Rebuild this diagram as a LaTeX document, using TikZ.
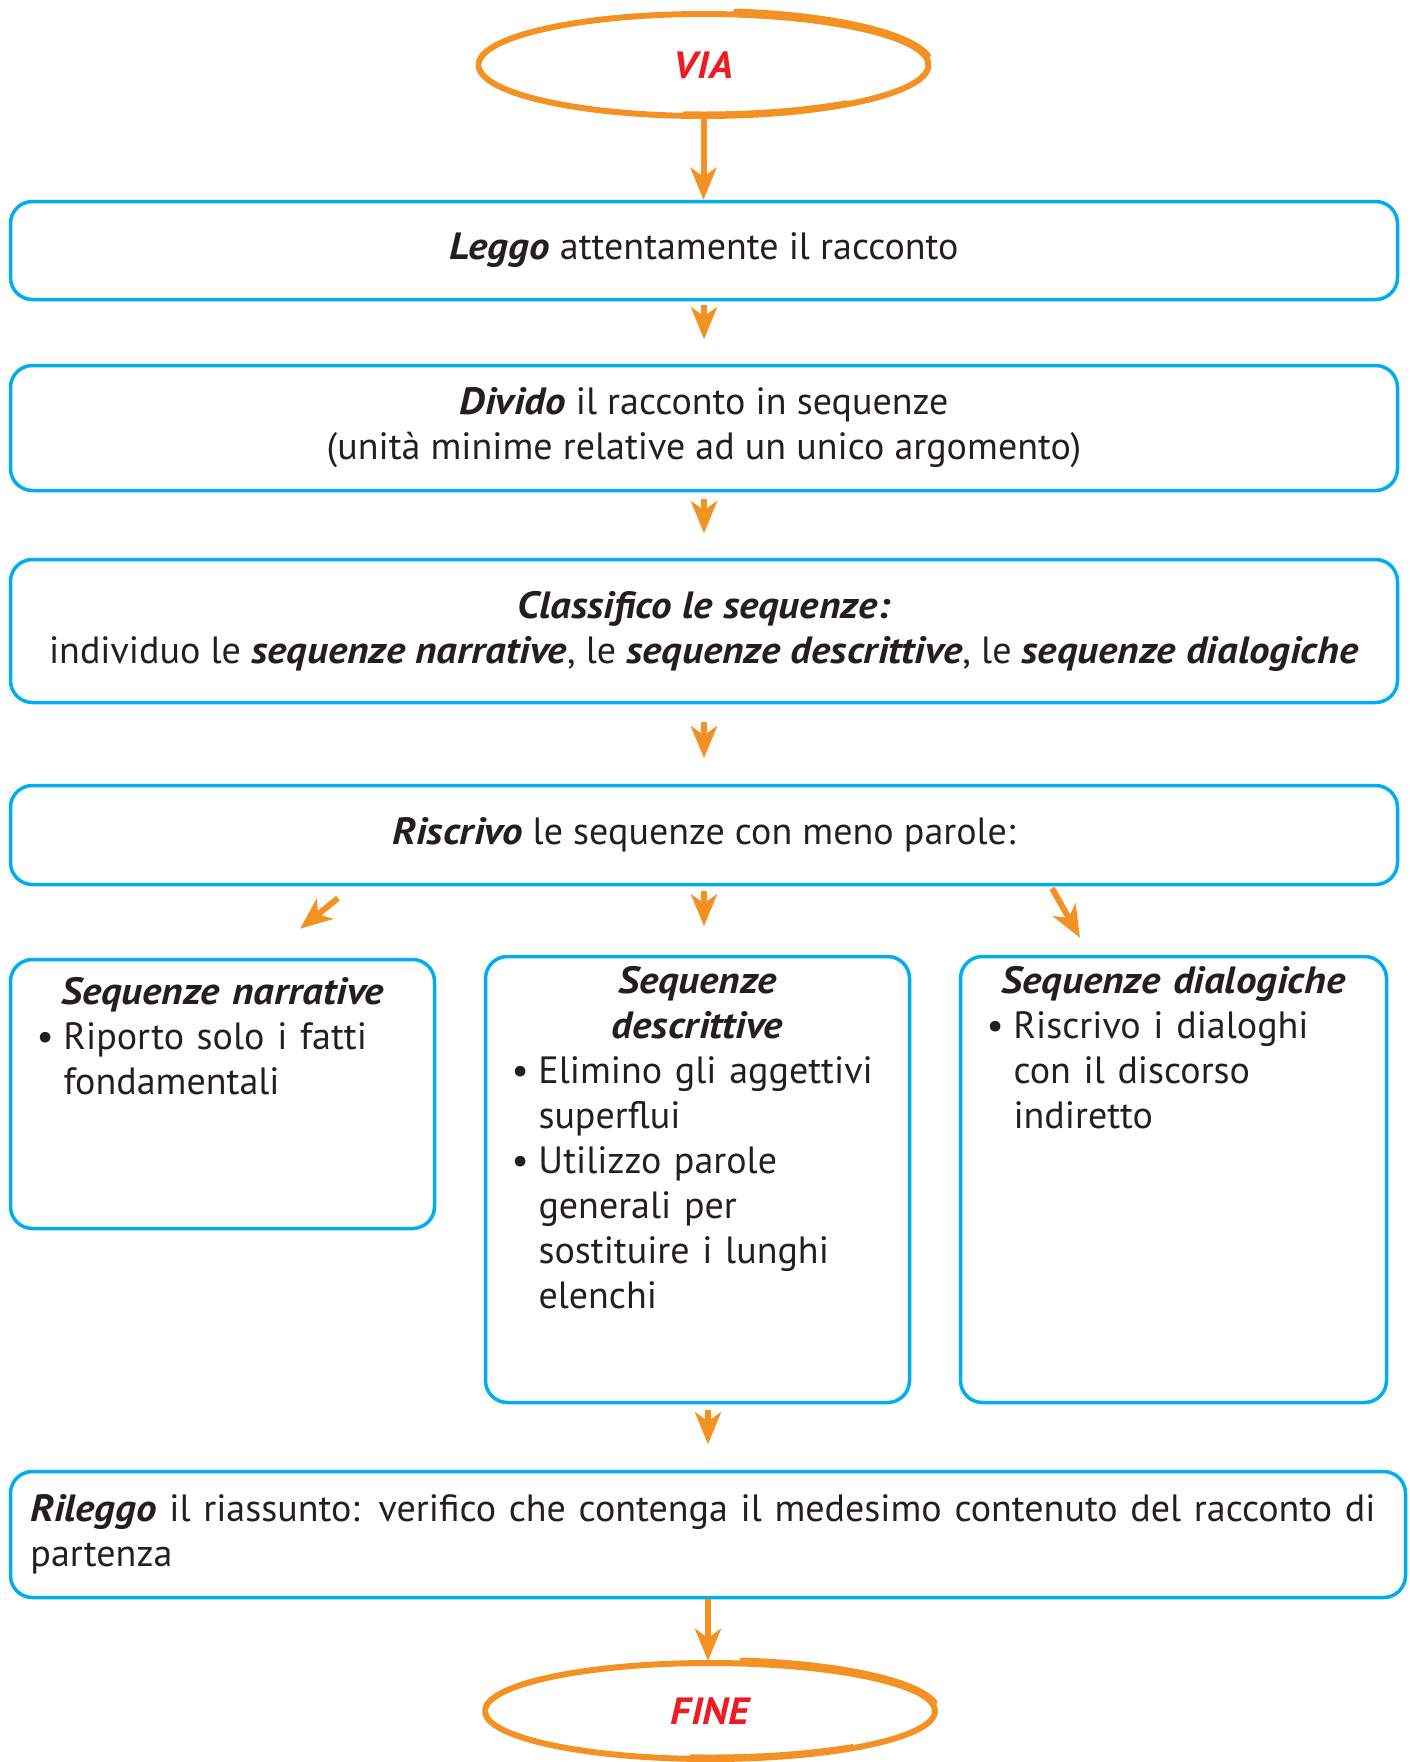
\documentclass[tikz,border=0pt]{standalone}
\usepackage{fontspec}
\setmainfont{PT Sans}[BoldItalicFeatures={FakeStretch=1.08}]
\usepackage{tikz}
\usetikzlibrary{arrows.meta,positioning,calc,shapes.geometric}
\definecolor{bordo}{HTML}{00AEEF}
\definecolor{freccia}{HTML}{F39223}
\definecolor{rosso}{HTML}{ED1C24}
\definecolor{testo}{HTML}{231F20}
\setlength{\parindent}{0pt}
\newcommand{\bi}[1]{\textbf{\textit{#1}}}
\newcommand{\testa}[1]{\makebox[\hsize][c]{\strut\bfseries\itshape #1}}
\newcommand{\voce}{\makebox[27pt][l]{\textbullet}}
\newcommand{\rientro}{\hspace*{27pt}}

\begin{document}
\begin{tikzpicture}[x=1pt, y=-1pt,
    font=\fontsize{38}{45}\selectfont, text=testo,
    box/.style={draw=bordo, line width=3.5pt, rounded corners=22pt, inner sep=0pt},
    lista/.style={align=left, inner sep=0pt, anchor=north},
    meta/.style={ellipse, minimum width=450pt, minimum height=104pt, inner sep=0pt,
                 text=rosso, font=\fontsize{38}{45}\selectfont\bfseries\itshape},
    pennello/.style={draw=freccia, line width=6pt, line cap=round},
    arr/.style={-{Stealth[length=32pt, width=26pt, inset=9pt]}, line width=6pt, freccia}]
    \useasboundingbox (0,0) rectangle (1410,1762);
    % partenza
    \node[meta] (via) at (703.5,65) {VIA};
    \draw[pennello] ([shift={(178:225pt and 51pt)}]via.center)
        arc[start angle=178, end angle=-178, x radius=225pt, y radius=51pt];
    \draw[pennello, line width=4pt] ([shift={(82:229pt and 55pt)}]via.center)
        arc[start angle=82, end angle=10, x radius=229pt, y radius=55pt];
    \draw[pennello, line width=3pt] ([shift={(-50:222pt and 48pt)}]via.center)
        arc[start angle=-50, end angle=-95, x radius=222pt, y radius=48pt];
    % passi
    \node[box, minimum width=1387pt, minimum height=98pt] (leggo) at (704,250.5)
        {\bi{Leggo} attentamente il racconto};
    \node[box, minimum width=1387pt, minimum height=125pt, align=center] (divido) at (704,428)
        {\bi{Divido} il racconto in sequenze\\(unità minime relative ad un unico argomento)};
    \node[box, minimum width=1387pt, minimum height=143pt, align=center] (classif) at (704,631)
        {\bi{Classifico le sequenze:}\\individuo le \bi{sequenze narrative}, le \bi{sequenze descrittive}, le \bi{sequenze dialogiche}};
    \node[box, minimum width=1387pt, minimum height=99pt] (riscr) at (704,835)
        {\bi{Riscrivo} le sequenze con meno parole:};
    % tre tipi di sequenze
    \node[box, minimum width=424pt, minimum height=269pt] (nar) at (222.5,1094) {};
    \node[box, minimum width=424pt, minimum height=446pt] (desc) at (697.5,1179.5) {};
    \node[box, minimum width=426pt, minimum height=446pt] (dial) at (1173.5,1179.5) {};
    \node[lista, text width=372pt] (narT) at ([yshift=-15pt]nar.north)
        {\testa{Sequenze narrative}\\\voce Riporto solo i fatti\\\rientro fondamentali};
    \node[lista, text width=372pt] (descT) at ([yshift=-7pt]desc.north)
        {\testa{Sequenze}\\\testa{descrittive}\\\voce Elimino gli aggettivi\\\rientro superflui\\
         \voce Utilizzo parole\\\rientro generali per\\\rientro sostituire i lunghi\\\rientro elenchi};
    \node[lista, text width=374pt] (dialT) at ([yshift=-7pt]dial.north)
        {\testa{Sequenze dialogiche}\\\voce Riscrivo i dialoghi\\\rientro con il discorso\\\rientro indiretto};
    \node[box, minimum width=1395pt, minimum height=126pt, text width=1355pt, inner xsep=20pt,
          align=left] (ril) at (708,1534.5)
        {\bi{Rileggo} il riassunto: verifico che contenga il medesimo contenuto del racconto di\\partenza};
    % arrivo
    \node[meta, minimum height=100pt] (fine) at (710,1711) {FINE};
    \draw[pennello] ([shift={(178:225pt and 48pt)}]fine.center)
        arc[start angle=178, end angle=-178, x radius=225pt, y radius=48pt];
    \draw[pennello, line width=4pt] ([shift={(82:229pt and 52pt)}]fine.center)
        arc[start angle=82, end angle=10, x radius=229pt, y radius=52pt];
    \draw[pennello, line width=3pt] ([shift={(-50:222pt and 45pt)}]fine.center)
        arc[start angle=-50, end angle=-95, x radius=222pt, y radius=45pt];
    % frecce
    \draw[arr] (via.south) -- (via.south |- leggo.north);
    \draw[arr, shorten <=3.5pt, shorten >=24.5pt] (leggo.south) -- (divido.north);
    \draw[arr, shorten <=6.5pt, shorten >=24.5pt] (divido.south) -- (classif.north);
    \draw[arr, shorten <=17.5pt, shorten >=25.5pt] (classif.south) -- (riscr.north);
    \draw[arr] ($(riscr.south)+(-366,12)$) -- ($(nar.north)+(77.5,-29)$);
    \draw[arr, shorten <=4.5pt, shorten >=28.5pt] (riscr.south) -- (riscr.south |- desc.north);
    \draw[arr] ($(riscr.south)+(348,2)$) -- ($(dial.north)+(-93.5,-17)$);
    \draw[arr, shorten <=5.5pt, shorten >=25.5pt] (desc.south -| ril.north) -- (ril.north);
    \draw[arr] (ril.south) -- (ril.south |- fine.north);
\end{tikzpicture}
\end{document}
